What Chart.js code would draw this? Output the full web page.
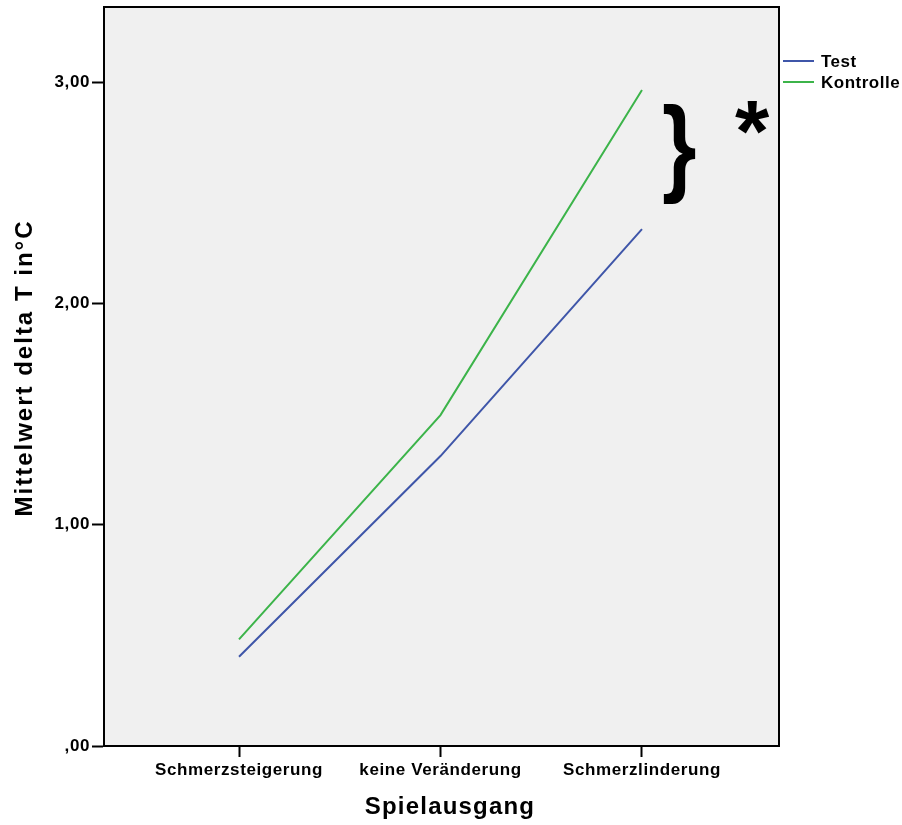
<!DOCTYPE html>
<html>
<head>
<meta charset="utf-8">
<script src="https://cdn.jsdelivr.net/npm/chart.js@4/dist/chart.umd.min.js"></script>
<style>
  body { margin: 0; background: #fff; }
  canvas { display: block; }
</style>
</head>
<body>
<canvas id="chart" width="902" height="825"></canvas>
<script>
// Werte
var categories = ['Schmerzsteigerung', 'keine Veränderung', 'Schmerzlinderung'];
var testValues = [0.403, 1.31, 2.335];
var kontrolleValues = [0.482, 1.495, 2.964];
var yTicks = [0, 1, 2, 3];
var seriesNames = ['Test', 'Kontrolle'];
var seriesColors = ['#3F56A9', '#3CB44A'];

function toPoints(vals){
    return vals.map(function(v, i){ return {x: i + 1, y: v}; });
}

function fmtComma(v){
    var s = v.toFixed(2).replace('.', ',');
    if (s.indexOf('0,') === 0) s = s.substring(1);
    return s;
}

var FONT = '"Liberation Sans", Arial, sans-serif';

function setSpacing(chart){
    chart.ctx.letterSpacing = '0.6px';
}

var decorPlugin = {
    id: 'decor',
    beforeUpdate: setSpacing,
    beforeLayout: setSpacing,
    beforeDraw: function(chart){
        setSpacing(chart);
        var ctx = chart.ctx, a = chart.chartArea;
        ctx.save();
        ctx.fillStyle = '#F0F0F0';
        ctx.fillRect(a.left, a.top, a.right - a.left, a.bottom - a.top);
        ctx.restore();
    },
    afterDraw: function(chart){
        var ctx = chart.ctx, a = chart.chartArea;
        ctx.save();
        ctx.strokeStyle = '#000';
        ctx.lineWidth = 2;
        ctx.strokeRect(a.left, a.top, a.right - a.left, a.bottom - a.top);

        // Achsentitel
        ctx.fillStyle = '#000';
        ctx.font = 'bold 24px ' + FONT;
        ctx.textAlign = 'center';
        ctx.textBaseline = 'alphabetic';
        ctx.letterSpacing = '1.2px';
        ctx.fillText('Spielausgang', 450, 814);
        ctx.save();
        ctx.translate(32, 368);
        ctx.rotate(-Math.PI / 2);
        ctx.letterSpacing = '2px';
        ctx.fillText('Mittelwert delta T in°C', 0, 0);
        ctx.restore();

        // Legende
        ctx.letterSpacing = '0.5px';
        ctx.font = 'bold 17px ' + FONT;
        ctx.textAlign = 'left';
        chart.data.datasets.forEach(function(ds, i){
            var y = 61 + i * 21;
            ctx.strokeStyle = ds.borderColor;
            ctx.lineWidth = 2;
            ctx.beginPath();
            ctx.moveTo(783, y);
            ctx.lineTo(814, y);
            ctx.stroke();
            ctx.fillStyle = '#000';
            ctx.textBaseline = 'middle';
            ctx.fillText(ds.label, 821, y + 1);
        });

        // Signifikanz-Klammer
        ctx.letterSpacing = '0px';
        ctx.textBaseline = 'alphabetic';
        ctx.save();
        ctx.translate(662, 182);
        ctx.scale(0.82, 1);
        ctx.font = 'bold 108px ' + FONT;
        ctx.fillText('}', 0, 0);
        ctx.restore();
        ctx.font = 'bold 88px ' + FONT;
        ctx.fillText('*', 735, 161);
        ctx.restore();
    }
};

new Chart(document.getElementById('chart'), {
    type: 'line',
    data: {
        datasets: [
            {
                label: seriesNames[0],
                data: toPoints(testValues),
                borderColor: seriesColors[0],
                borderWidth: 2,
                pointRadius: 0,
                fill: false
            },
            {
                label: seriesNames[1],
                data: toPoints(kontrolleValues),
                borderColor: seriesColors[1],
                borderWidth: 2,
                pointRadius: 0,
                fill: false
            }
        ]
    },
    options: {
        responsive: false,
        animation: false,
        layout: { padding: { left: 0, right: 123, top: 7, bottom: 0 } },
        plugins: {
            legend: { display: false },
            tooltip: { enabled: false }
        },
        scales: {
            x: {
                type: 'linear',
                min: 0.33,
                max: 3.68,
                afterBuildTicks: function(scale){
                    scale.ticks = categories.map(function(c, i){ return {value: i + 1}; });
                },
                afterFit: function(scale){
                    scale.height = 79;
                    scale.paddingLeft = 0;
                    scale.paddingRight = 0;
                },
                grid: { drawOnChartArea: false, drawTicks: true, tickLength: 11, tickColor: '#000', tickWidth: 2 },
                border: { display: true, color: '#000', width: 2 },
                ticks: {
                    color: '#000',
                    font: { family: FONT, size: 17, weight: 'bold' },
                    padding: 3,
                    maxRotation: 0,
                    autoSkip: false,
                    callback: function(v){ return categories[v - 1]; }
                }
            },
            y: {
                min: 0,
                max: 3.339,
                afterBuildTicks: function(scale){
                    scale.ticks = yTicks.map(function(v){ return {value: v}; });
                },
                afterFit: function(scale){
                    scale.width = 104;
                    scale.paddingTop = 0;
                    scale.paddingBottom = 0;
                },
                grid: { drawOnChartArea: false, drawTicks: true, tickLength: 12, tickColor: '#000', tickWidth: 2 },
                border: { display: true, color: '#000', width: 2 },
                ticks: {
                    color: '#000',
                    font: { family: FONT, size: 17, weight: 'bold' },
                    padding: 2,
                    callback: function(v){ return fmtComma(v); }
                }
            }
        }
    },
    plugins: [decorPlugin]
});
</script>
</body>
</html>
